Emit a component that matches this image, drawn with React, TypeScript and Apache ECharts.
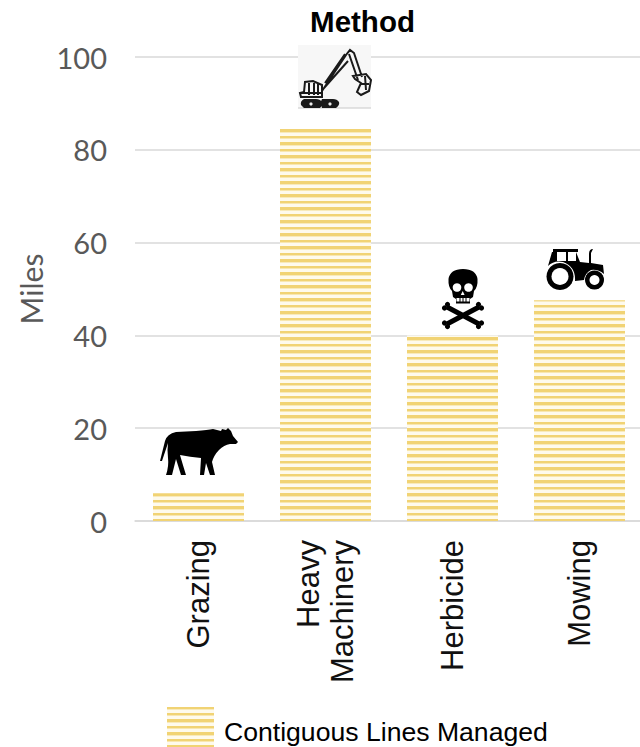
import React, { useEffect, useRef } from "react";
import * as echarts from "echarts";

const categories = ["Grazing", "Heavy\nMachinery", "Herbicide", "Mowing"];
const miles = [6, 84.5, 40, 47.6];
const seriesName = "Contiguous Lines Managed";

// Hand-traced icons, in chart pixels.
const cowPath =
  "M160 461 Q163 449 165 441 Q167 434 176 432 L196 431 Q208 430 213 429 L221 431 L222 429 L226 430 L228 428 L231 431 L233 436 L238 442 L236 444 L230 444 Q224 445 219 450 Q214 455 212 462 L215 475 L210 475 L206 463 L204 475 L200 475 L201 458 Q190 457 180 455 Q182 462 186 475 L181 475 L176 459 L172 475 L166 475 Q169 466 168 458 Q167 450 168 443 Q165 452 162 461 Z";
const skullPath =
  "M463 269 Q450 269 448.5 279 Q448 287 452 291 L453 297 L456 299 L456 303.5 L470 303.5 L470 299 L473 297 L474 291 Q478 287 477.5 279 Q476 269 463 269 Z";
const bonesPath = "M447 307 L479 324 M479 307 L447 324";
const tractorBodyPath =
  "M553 249 L578 249 L578 252 L576 252 L580 262 L589 263 L589 254 Q589 249 593 249 L591 253 L591 263 L603 265 L604 274 Q598 269 591 270 Q585 273 584 280 L575 281 Q576 267 563 262 Q554 260 548 266 L552 252 L553 252 Z";
const excavatorLines =
  "M301 97 L322 97 L322 85 L313 81 L305 82 L304 92 L300 93 Z M309 83 L309 95 M314 83 L314 95 M318 84 L318 95 M322 91 L346 55 L350 50 L354 53 L362 77 M325 83 L345 54 M324 88 L348 61 M349 54 L358 80 M353 76 L366 74 L371 80 L369 91 L361 95 L357 92 L361 83 L355 79 Z M365 76 L366 90 M360 84 L369 84 M300 93 L322 93";
const excavatorTracks =
  "M304 108 L320 108 Q323 105 322 102 Q320 99 316 99 L304 99 Q300 101 301 105 Z M322 108 L336 108 Q340 105 339 102 Q337 99 333 99 L322 99 Q320 102 322 108 Z";
// The swatch fills the top of its legend box, so the label sits a little below its middle.
const legendSwatch = "path://M0 0H47V40H0Z M0 50H0.01V49.99Z";

const bandColor = "#F1D374";
const gapColor = "#FEFAEC";
const lineColor = "#D9D9D9";

function stripeCanvas() {
  // Two bands of unequal height repeat every 13 pixels.
  const c = document.createElement("canvas");
  c.width = 13;
  c.height = 13;
  const ctx = c.getContext("2d")!;
  ctx.fillStyle = gapColor;
  ctx.fillRect(0, 0, 13, 13);
  ctx.fillStyle = bandColor;
  for (const [y, h] of [[12, 3.4], [6, 2.5], [-1, 3.4]]) {
    ctx.fillRect(0, y, 13, h);
  }
  return c;
}

export default function App() {
  const ref = useRef<HTMLDivElement>(null);

  useEffect(() => {
    document.body.style.margin = "0";
    const shape = (name: string, d: string) =>
      echarts.graphic.registerShape(name, (echarts.graphic as any).extendPath(d, {}));
    shape("cow", cowPath);
    shape("skull", skullPath);
    shape("bones", bonesPath);
    shape("tractorBody", tractorBodyPath);
    shape("excavatorLines", excavatorLines);
    shape("excavatorTracks", excavatorTracks);

    const chart = echarts.init(ref.current!, undefined, { renderer: "svg" });
    const ink = { fill: "#000" };
    const hole = { fill: "#fff" };
    const knob = (cx: number, cy: number) => ({ type: "circle", shape: { cx, cy, r: 2.6 }, style: ink, z: 10 });
    chart.setOption({
      animation: false,
      backgroundColor: "#fff",
      title: {
        text: "Method",
        left: 362.5,
        top: 6,
        padding: 0,
        textAlign: "center",
        textStyle: { fontFamily: "Liberation Sans", fontSize: 29.5, fontWeight: "bold", color: "#000" },
      },
      legend: {
        left: 167,
        top: 707,
        padding: 0,
        itemWidth: 47,
        itemHeight: 50,
        icon: legendSwatch,
        symbolKeepAspect: false,
        textStyle: { fontFamily: "Liberation Sans", fontSize: 26.6, color: "#000", padding: [0, 0, 0, 5] },
        data: [seriesName],
      },
      grid: { left: 135, width: 508, top: 57, height: 464, outerBoundsMode: "none" },
      xAxis: {
        type: "category",
        data: categories,
        axisTick: { show: false },
        axisLine: { lineStyle: { color: lineColor, width: 1.5 } },
        axisLabel: {
          interval: 0,
          rotate: 90,
          margin: 19,
          fontFamily: "Liberation Sans",
          fontSize: 31,
          lineHeight: 34,
          color: "#111",
        },
      },
      yAxis: {
        type: "value",
        min: 0,
        max: 100,
        interval: 20,
        name: "Miles",
        nameLocation: "middle",
        nameGap: 87,
        nameTextStyle: { fontFamily: "Lato", fontSize: 30, color: "#595959" },
        axisLine: { show: false },
        axisTick: { show: false },
        axisLabel: { margin: 28, fontFamily: "Lato", fontSize: 29, color: "#595959" },
        splitLine: { lineStyle: { color: lineColor, width: 1.5 } },
      },
      series: [
        {
          type: "bar",
          name: seriesName,
          data: miles,
          barWidth: 91,
          itemStyle: { color: { image: stripeCanvas(), repeat: "repeat" } },
        },
      ],
      graphic: [
        { type: "cow", x: 0, y: 0, style: ink, z: 10 },
        { type: "skull", x: 0, y: 0, style: ink, z: 10 },
        { type: "circle", shape: { cx: 457, cy: 287.5, r: 4.3 }, style: hole, z: 11 },
        { type: "circle", shape: { cx: 468.5, cy: 287.5, r: 4.3 }, style: hole, z: 11 },
        { type: "polygon", shape: { points: [[462.7, 291], [460.8, 295], [464.6, 295]] }, style: hole, z: 11 },
        { type: "rect", shape: { x: 456.5, y: 298, width: 13, height: 3.5 }, style: hole, z: 11 },
        { type: "line", shape: { x1: 460, y1: 298, x2: 460, y2: 302 }, style: { stroke: "#000", lineWidth: 1 }, z: 12 },
        { type: "line", shape: { x1: 463, y1: 298, x2: 463, y2: 302 }, style: { stroke: "#000", lineWidth: 1 }, z: 12 },
        { type: "line", shape: { x1: 466, y1: 298, x2: 466, y2: 302 }, style: { stroke: "#000", lineWidth: 1 }, z: 12 },
        { type: "bones", x: 0, y: 0, style: { fill: "none", stroke: "#000", lineWidth: 5 }, z: 10 },
        knob(444.5, 308),
        knob(447.5, 304.5),
        knob(481.5, 308),
        knob(478.5, 304.5),
        knob(444.5, 323),
        knob(447.5, 326.5),
        knob(481.5, 323),
        knob(478.5, 326.5),
        { type: "tractorBody", x: 0, y: 0, style: ink, z: 10 },
        { type: "rect", shape: { x: 557, y: 252, width: 9, height: 9 }, style: hole, z: 11 },
        { type: "rect", shape: { x: 568, y: 252, width: 8, height: 9 }, style: hole, z: 11 },
        { type: "circle", shape: { cx: 560, cy: 276.5, r: 13.5 }, style: ink, z: 12 },
        { type: "circle", shape: { cx: 560, cy: 276.5, r: 8.5 }, style: hole, z: 13 },
        { type: "circle", shape: { cx: 594.5, cy: 280, r: 9.5 }, style: ink, z: 12 },
        { type: "circle", shape: { cx: 594.5, cy: 280, r: 5 }, style: hole, z: 13 },
        { type: "rect", shape: { x: 298, y: 45, width: 73, height: 63 }, style: { fill: "#F7F7F7" }, z: 9 },
        { type: "line", shape: { x1: 298, y1: 108, x2: 371, y2: 108 }, style: { stroke: "#C8C8C8", lineWidth: 1 }, z: 9 },
        { type: "excavatorTracks", x: 0, y: 0, style: { fill: "#1A1A1A" }, z: 10 },
        { type: "excavatorLines", x: 0, y: 0, style: { fill: "none", stroke: "#1A1A1A", lineWidth: 2 }, z: 10 },
        { type: "circle", shape: { cx: 311, cy: 104, r: 1.6 }, style: { fill: "#EEE" }, z: 11 },
        { type: "circle", shape: { cx: 330, cy: 104, r: 1.6 }, style: { fill: "#EEE" }, z: 11 },
      ],
    });
    return () => chart.dispose();
  }, []);

  return <div ref={ref} style={{ width: 640, height: 747 }} />;
}
